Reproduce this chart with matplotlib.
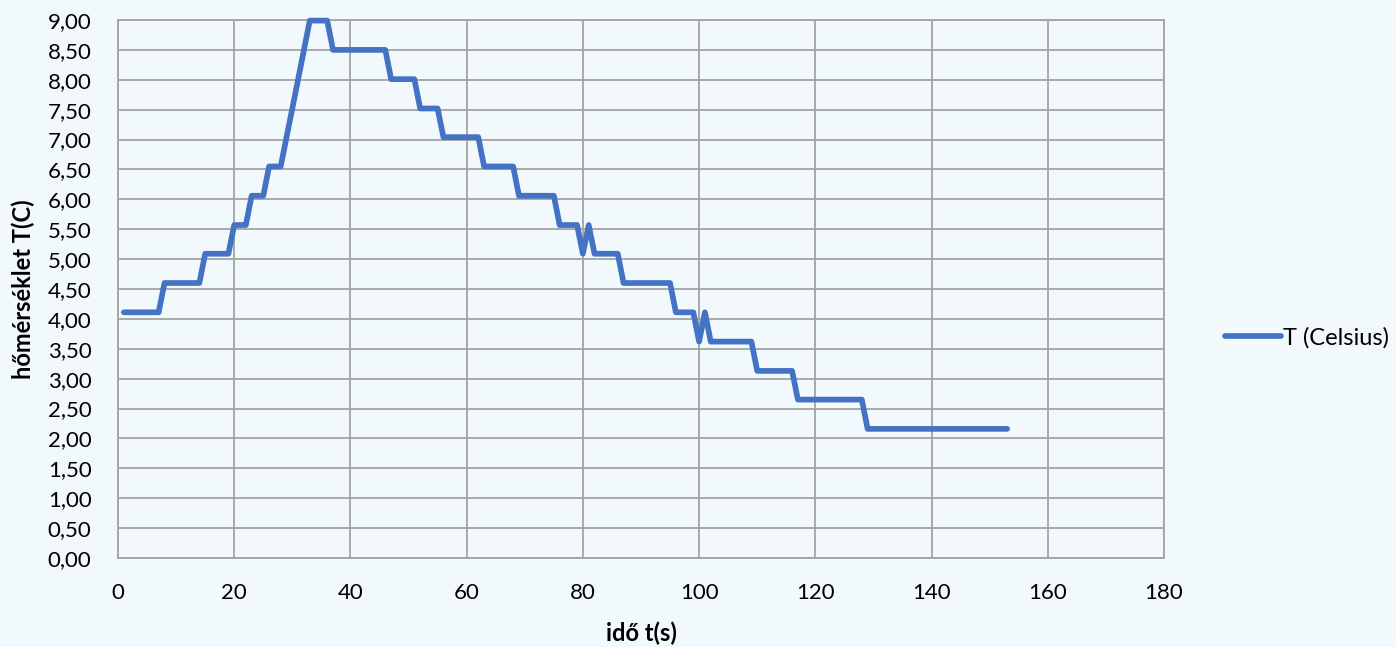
import matplotlib
matplotlib.use("Agg")
import matplotlib.pyplot as plt
from matplotlib.ticker import FuncFormatter, MultipleLocator

# Temperature reading once per second (seconds 1..153)
time_s = list(range(1, 154))
temp_c = (
    [4.11] * 7 + [4.60] * 7 + [5.09] * 5 + [5.57] * 3 + [6.06] * 3 + [6.55] * 3
    + [7.04, 7.52, 8.01, 8.50]
    + [8.99] * 4 + [8.50] * 10 + [8.01] * 5 + [7.52] * 4 + [7.04] * 7
    + [6.55] * 6 + [6.06] * 7 + [5.57] * 4 + [5.09, 5.57]
    + [5.09] * 5 + [4.60] * 9 + [4.11] * 4 + [3.62, 4.11]
    + [3.62] * 8 + [3.13] * 7 + [2.65] * 12 + [2.16] * 25
)
series_label = "T (Celsius)"
x_label = "idő t(s)"
y_label = "hőmérséklet T(C)"

BG = "#f2f9fc"
GRID = "#a3a3a3"
LINE = "#4472c4"
FONT = ["Lato", "DejaVu Sans"]

plt.rcParams["font.family"] = FONT

fig = plt.figure(figsize=(13.96, 6.47), dpi=100, facecolor=BG)
ax = fig.add_axes([118 / 1396, 89 / 647, 1046 / 1396, 538 / 647], facecolor=BG)

ax.plot(time_s, temp_c, color=LINE, lw=4.1, solid_capstyle="round",
        solid_joinstyle="round", clip_on=False, label=series_label, zorder=3)

ax.set_xlim(0, 180)
ax.set_ylim(0, 9)
ax.xaxis.set_major_locator(MultipleLocator(20))
ax.yaxis.set_major_locator(MultipleLocator(0.5))
ax.yaxis.set_major_formatter(FuncFormatter(lambda v, _: f"{v:.2f}".replace(".", ",")))

ax.grid(True, color=GRID, lw=1.3)
ax.set_axisbelow(True)
for side in ["left", "bottom", "top", "right"]:
    ax.spines[side].set_color(GRID)
    ax.spines[side].set_linewidth(1.3)

ax.tick_params(axis="both", length=0, labelsize=16, colors="black")
ax.tick_params(axis="y", pad=19)
ax.tick_params(axis="x", pad=18)

ax.set_xlabel(x_label, fontsize=17, fontweight="bold", labelpad=13)
ax.set_ylabel(y_label, fontsize=17, fontweight="bold", labelpad=9)

leg = ax.legend(loc="center left", bbox_to_anchor=(1.049, 0.41), frameon=False,
                fontsize=17, handlelength=2.4, handletextpad=0.05, borderaxespad=0)

fig.savefig("out.png", dpi=100, facecolor=BG)
